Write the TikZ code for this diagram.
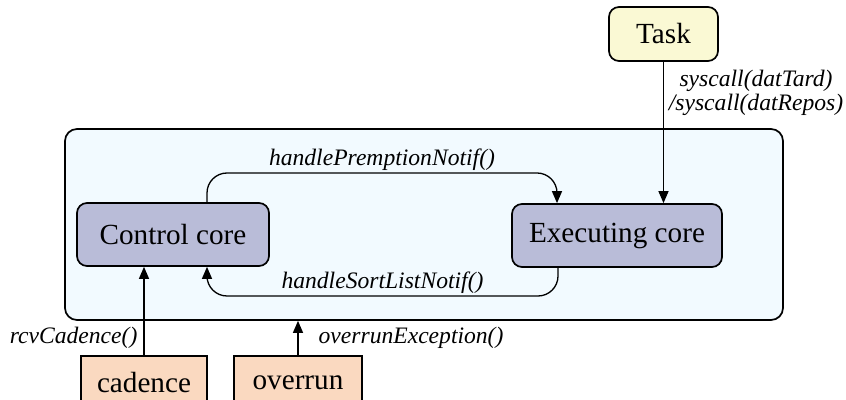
\documentclass[tikz,border=0pt]{standalone}
\usepackage{fontspec}
\setmainfont{Liberation Serif}
\usetikzlibrary{arrows.meta}

\definecolor{taskfill}{RGB}{250,249,212}
\definecolor{corefill}{RGB}{185,188,216}
\definecolor{sysfill}{RGB}{242,250,255}
\definecolor{srcfill}{RGB}{250,217,192}

\begin{document}
\begin{tikzpicture}[x=0.5pt, y=-0.5pt,
  box/.style={draw, line width=0.85pt, font=\fontsize{14.6}{17}\selectfont},
  core/.style={box, rounded corners=5pt, fill=corefill, minimum height=31.5pt},
  src/.style={box, fill=srcfill, minimum height=27pt},
  msg/.style={font=\fontsize{11.8}{9}\selectfont\itshape, inner sep=1pt},
  flow/.style={-{Triangle[length=6pt,width=5pt]}, line width=0.65pt, rounded corners=10pt}]
  \useasboundingbox (0,0) rectangle (846,400);
  % the two cores sit in one box
  \node[draw, line width=0.85pt, rounded corners=6pt, fill=sysfill, minimum width=359pt, minimum height=95.5pt] (sys) at (424,224.5) {};
  \node[core, minimum width=96pt] (ctrl) at (173,234.5) {Control core};
  \node[core, minimum width=105pt] (exec) at (617,235.5) {Executing core};
  \node[box, rounded corners=5pt, fill=taskfill, minimum width=54.5pt, minimum height=27pt] (task) at (663.5,34) {Task};
  \node[src, minimum width=63pt] (cadence) at (144,383) {cadence};
  \node[src, minimum width=64pt] (overrun) at (298,383) {overrun};

  % notifications between the cores
  \coordinate (premOut) at ([xshift=17pt]ctrl.north);
  \coordinate (premIn) at ([xshift=-30pt]exec.north);
  \coordinate (premLevel) at (0,173);
  \draw[flow] (premOut) |- (premIn |- premLevel) node[msg, pos=0.75, above] (premLbl) {handlePremptionNotif()} -- (premIn);
  \coordinate (sortOut) at ([xshift=-29.5pt]exec.south);
  \coordinate (sortIn) at ([xshift=17pt]ctrl.south);
  \coordinate (sortLevel) at (0,296);
  \draw[flow] (sortOut) |- (sortIn |- sortLevel) node[msg, pos=0.75, above] (sortLbl) {handleSortListNotif()} -- (sortIn);

  % calls from outside
  \draw[flow] (task) -- (task |- exec.north);
  \node[msg, align=center] (syscallLbl) at (756,93) {syscall(datTard)\\/syscall(datRepos)};
  \draw[flow] (cadence) -- (cadence |- ctrl.south) node[msg, pos=0.2, left=2pt] (cadLbl) {rcvCadence()};
  \draw[flow] (overrun) -- (overrun |- sys.south) node[msg, pos=0.5, right=9pt] (ovLbl) {overrunException()};
\end{tikzpicture}
\end{document}
